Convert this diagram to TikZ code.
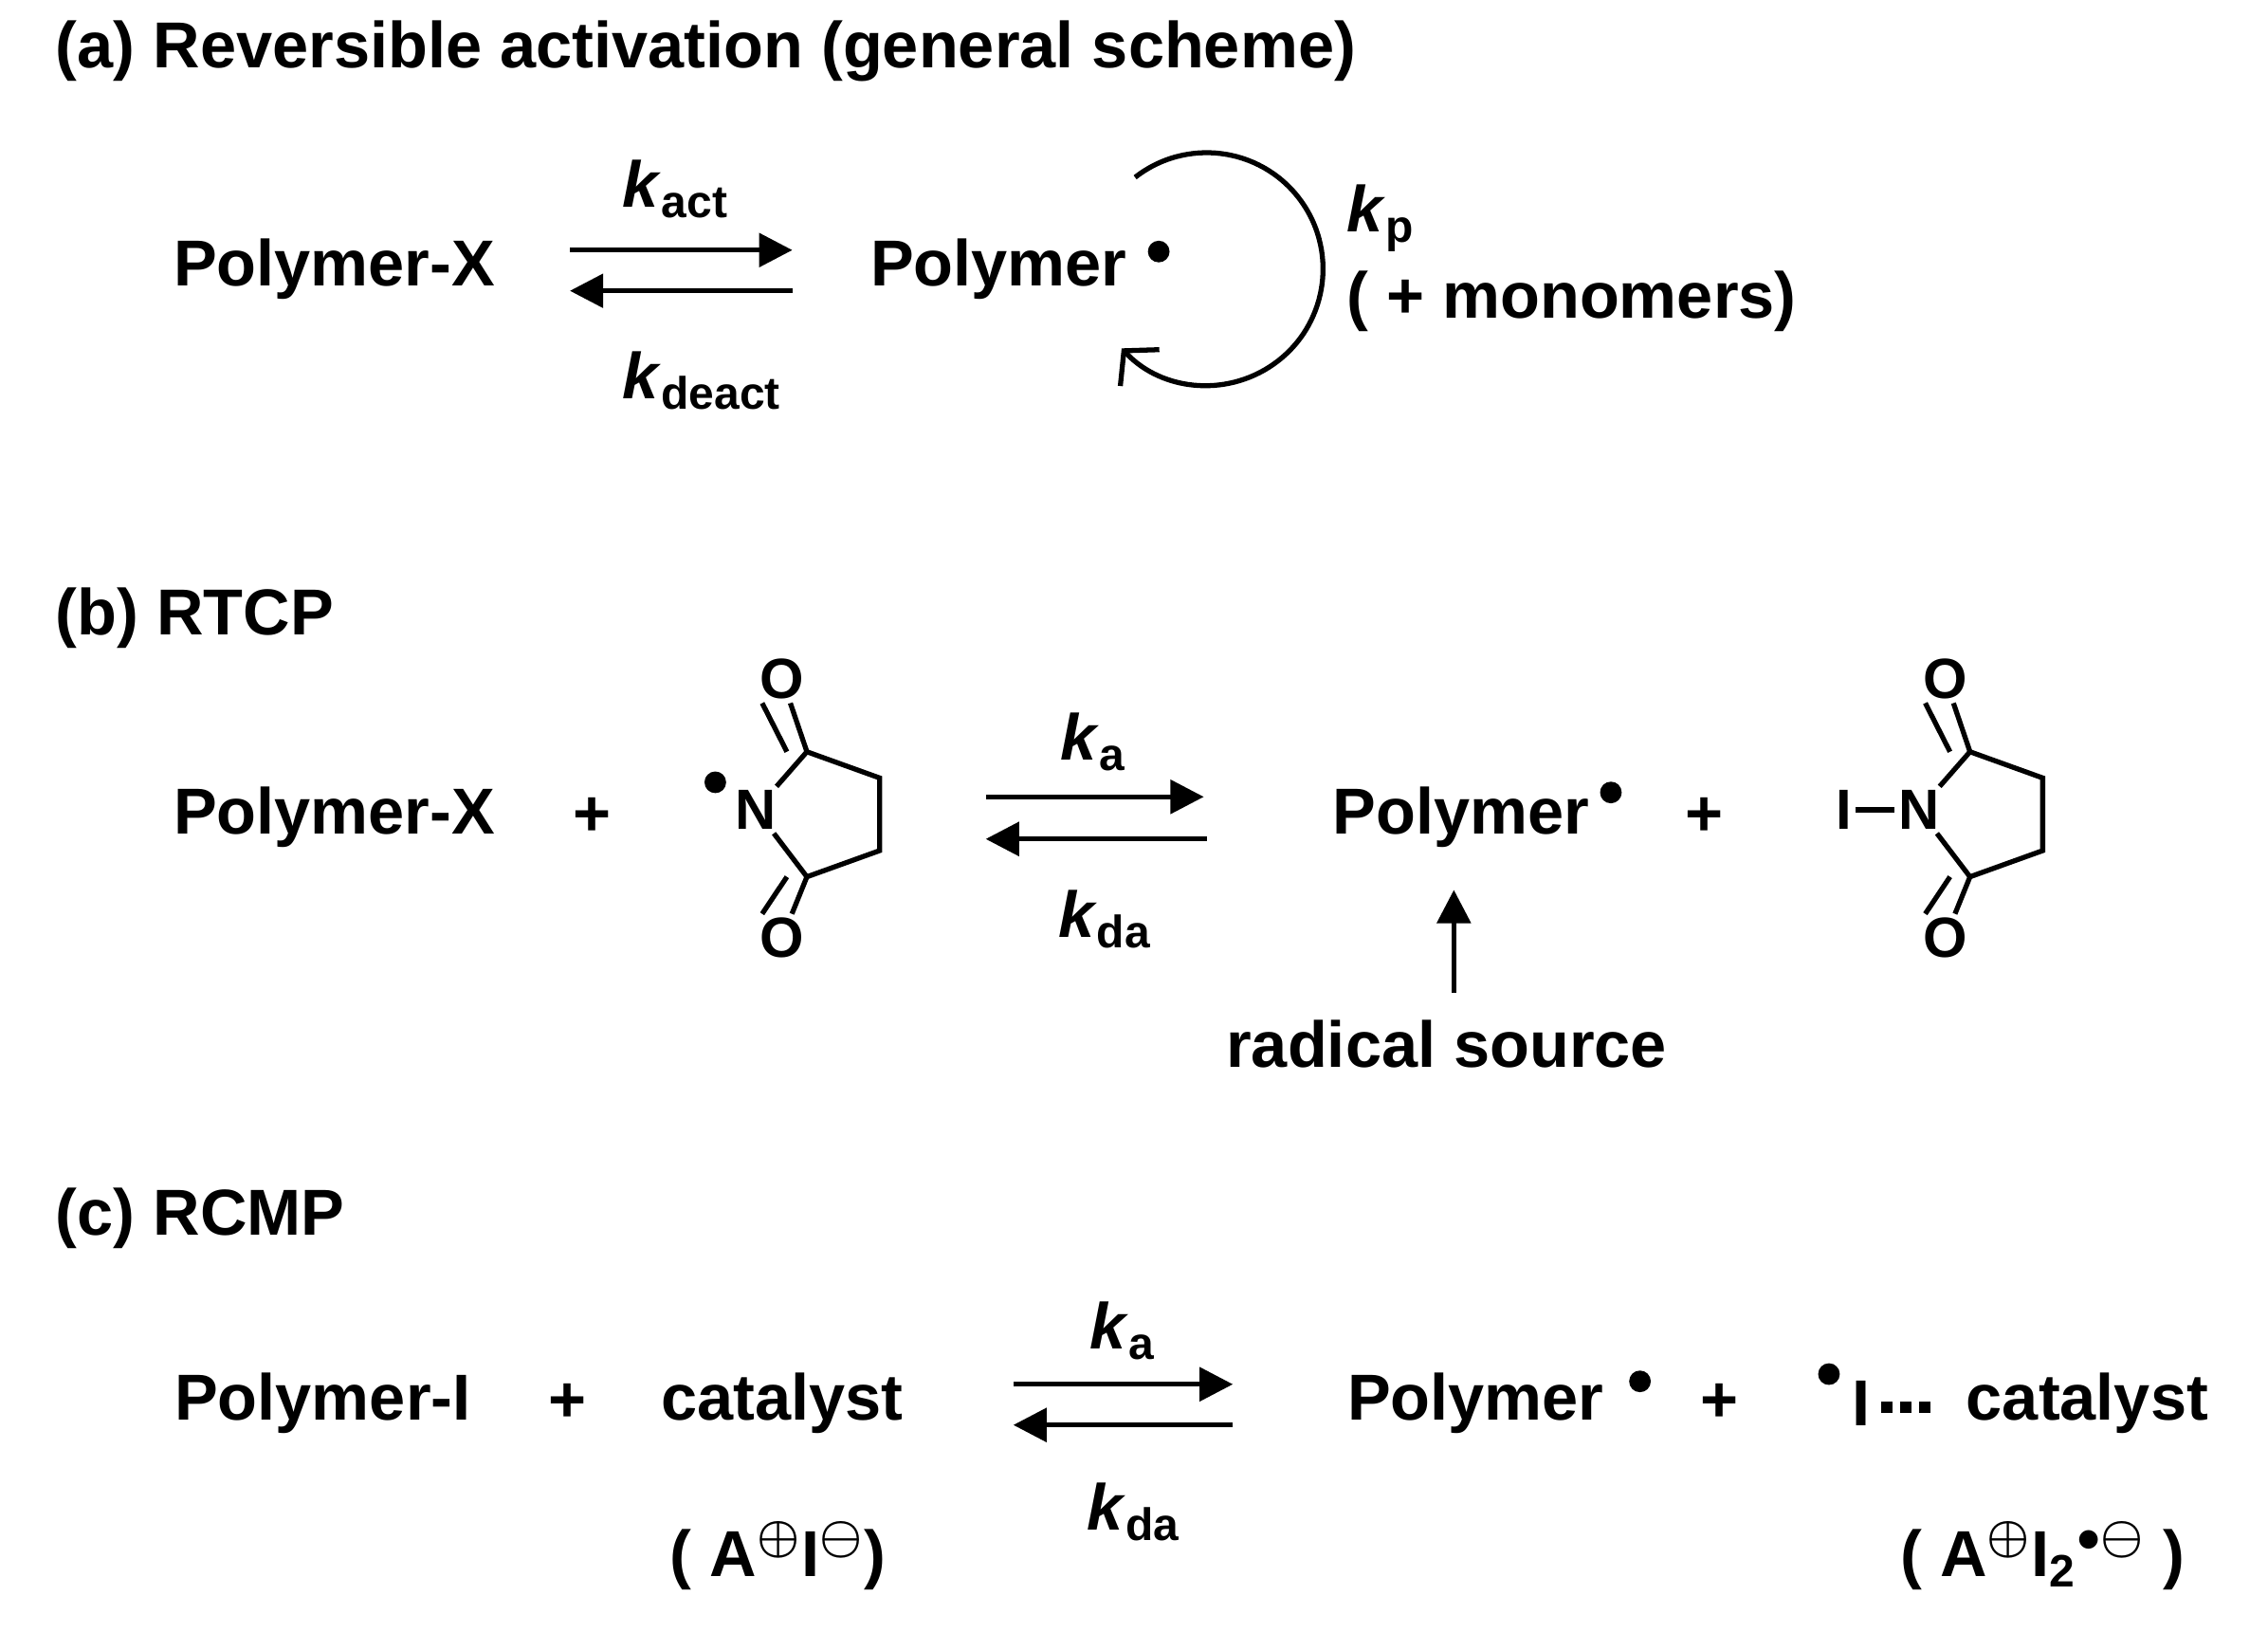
\documentclass[tikz,border=0pt]{standalone}
\usepackage{fontspec}
\setmainfont{Liberation Sans}
\usepackage{amssymb,amsmath}
\usetikzlibrary{arrows.meta,positioning}
\tikzset{
  lbl/.style={font=\fontsize{19.5}{23}\selectfont\bfseries, inner sep=0pt},
  rate/.style={font=\fontsize{19.5}{23}\selectfont\bfseries, inner sep=0pt},
  atom/.style={font=\fontsize{17}{20}\selectfont\bfseries, inner sep=1pt, fill=white},
  eq/.style={line width=1.5pt, -{Triangle[length=10pt,width=10pt]}},
  bond/.style={line width=1.5pt},
  rad/.style={circle, fill=black, inner sep=0pt, minimum size=6.5pt},
  hb/.style={fill=black, inner sep=0pt, minimum size=3.5pt},
}
\newcommand{\kk}[1]{\textit{k}\textsubscript{#1}}
\newcommand{\succinimide}[2]{%
  \node[atom] (#1N) at (#2,557) {N};
  \coordinate (#1Ct) at (#2+35,517);
  \coordinate (#1Ca) at (#2+85,535);
  \coordinate (#1Cb) at (#2+85,585);
  \coordinate (#1Cd) at (#2+35,603);
  \node[atom] (#1Ot) at (#2+18,467) {O};
  \node[atom] (#1Ob) at (#2+18,645) {O};
  \draw[bond] (#1N) -- (#1Ct) -- (#1Ca) -- (#1Cb) -- (#1Cd) -- (#1N);
  \draw[bond] (#1Ct) -- (#1Ot);
  \draw[bond] ([xshift=-6]#1Ct) -- ([xshift=-6]#1Ot.south);
  \draw[bond] (#1Cd) -- (#1Ob);
  \draw[bond] ([xshift=-6]#1Cd) -- ([xshift=-6]#1Ob.north);
}
\begin{document}
\begin{tikzpicture}[x=0.01533cm, y=-0.01533cm]
  \useasboundingbox (0,0) rectangle (1560,1122);

  % (a)
  \node[lbl, anchor=west] (ta) at (38,35) {(a) Reversible activation (general scheme)};
  \node[lbl] (apx) at (230,185) {Polymer-X};
  \node[lbl] (apol) at (687,185) {Polymer};
  \node[rad] (arad) at (797,173) {};
  \coordinate (aa1) at (392,172); \coordinate (aa2) at (545,172);
  \coordinate (ab1) at (545,200); \coordinate (ab2) at (392,200);
  \draw[eq] (aa1) -- (aa2);
  \draw[eq] (ab1) -- (ab2);
  \node[rate] (kact) at (465,130) {\kk{act}};
  \node[rate] (kdeact) at (483,262) {\kk{deact}};
  \coordinate (cyc) at (830,185);
  \draw[line width=1.5pt, -{Straight Barb[length=7pt,width=16pt]}]
    ([shift={(-128:80)}]cyc) arc[start angle=-128, end angle=137, radius=80];
  \node[rate, anchor=west] (kp) at (926,150) {\kk{p}};
  \node[lbl, anchor=west] (mono) at (926,207) {( + monomers)};

  % (b)
  \node[lbl, anchor=west] (tb) at (38,425) {(b) RTCP};
  \node[lbl] (bpx) at (230,562) {Polymer-X};
  \node[lbl] (bp1) at (407,562) {+};
  \succinimide{s}{520}
  \node[rad] (srad) at (492,538) {};
  \coordinate (ba1) at (678,548); \coordinate (ba2) at (828,548);
  \coordinate (bb1) at (830,577); \coordinate (bb2) at (678,577);
  \draw[eq] (ba1) -- (ba2);
  \draw[eq] (bb1) -- (bb2);
  \node[rate] (bka) at (752,510) {\kk{a}};
  \node[rate] (bkda) at (760,632) {\kk{da}};
  \node[lbl] (bpol) at (1005,562) {Polymer};
  \node[rad] (brad) at (1108,545) {};
  \node[lbl] (bp2) at (1172,562) {+};
  \succinimide{t}{1320}
  \node[atom] (tI) at (1268,557) {I};
  \draw[bond] (tI) -- (tN);
  \node[lbl] (src) at (995,718) {radical source};
  \coordinate (srcup) at (1000,683);
  \draw[eq] (srcup) -- (1000,612);

  % (c)
  \node[lbl, anchor=west] (tc) at (38,838) {(c) RCMP};
  \node[lbl] (cpi) at (222,965) {Polymer-I};
  \node[lbl] (cp1) at (390,965) {+};
  \node[lbl] (ccat) at (538,965) {catalyst};
  \node[lbl] (cai) at (535,1070) {( A$^{\boldsymbol\oplus}$I$^{\boldsymbol\ominus}$)};
  \coordinate (ca1) at (697,952); \coordinate (ca2) at (848,952);
  \coordinate (cb1) at (848,980); \coordinate (cb2) at (697,980);
  \draw[eq] (ca1) -- (ca2);
  \draw[eq] (cb1) -- (cb2);
  \node[rate] (cka) at (772,915) {\kk{a}};
  \node[rate] (ckda) at (780,1040) {\kk{da}};
  \node[lbl] (cpol) at (1015,965) {Polymer};
  \node[rad] (crad) at (1128,950) {};
  \node[lbl] (cp2) at (1183,965) {+};
  \node[rad] (irad) at (1258,945) {};
  \node[lbl] (iI) at (1280,965) {I};
  \foreach \i in {0,1,2} \node[hb] (hb\i) at (1298+\i*13,968) {};
  \node[lbl, anchor=west] (icat) at (1352,965) {catalyst};
  \node[lbl] (cai2) at (1405,1070) {( A$^{\boldsymbol\oplus}$I\textsubscript{2}$^{\bullet\boldsymbol\ominus}$ )};
\end{tikzpicture}
\end{document}
